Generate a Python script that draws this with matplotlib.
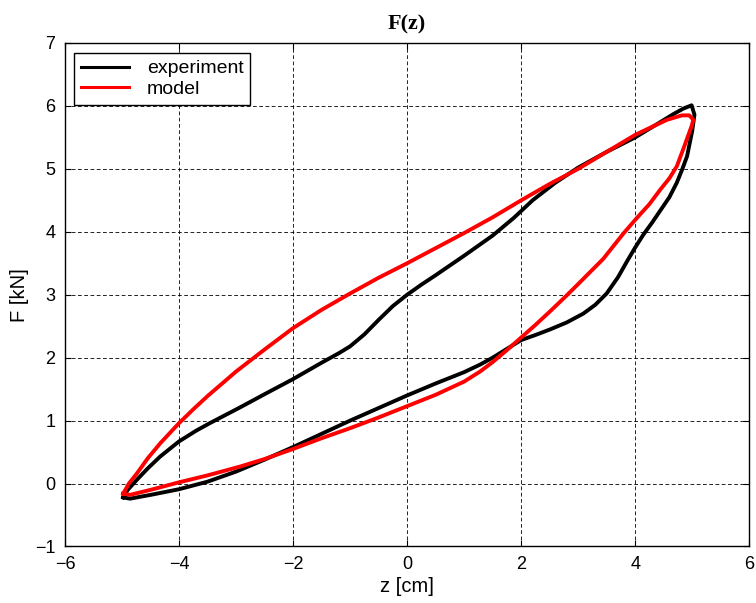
import numpy as np
import matplotlib.pyplot as plt

plt.rcParams["font.family"] = "Liberation Sans"
plt.rcParams["font.size"] = 13

# measured hysteresis loop: loading branch then unloading branch
z_exp_up = [-4.98, -4.90, -4.74, -4.55, -4.33, -4.0, -3.7, -3.46, -2.93, -2.5, -2.0,
            -1.5, -1.2, -1.0, -0.75, -0.5, -0.25, 0.0, 0.25, 0.5, 1.0, 1.5, 1.87, 2.2,
            2.6, 3.0, 3.5, 4.0, 4.4, 4.67, 4.85, 4.99]
F_exp_up = [-0.22, -0.10, 0.06, 0.24, 0.43, 0.67, 0.84, 0.96, 1.21, 1.42, 1.66,
            1.92, 2.07, 2.18, 2.37, 2.60, 2.82, 3.0, 3.16, 3.31, 3.62, 3.94, 4.22, 4.50,
            4.78, 5.02, 5.27, 5.50, 5.72, 5.87, 5.96, 6.01]
z_exp_dn = [5.04, 5.0, 4.91, 4.82, 4.73, 4.6, 4.45, 4.3, 4.14, 4.0, 3.85, 3.7, 3.5, 3.3,
            3.09, 2.8, 2.51, 2.25, 2.0, 1.75, 1.5, 1.28, 1.0, 0.5, 0.0, -0.5, -1.0,
            -1.5, -2.0, -2.5, -3.0, -3.5, -4.0, -4.5, -4.86, -4.98]
F_exp_dn = [5.86, 5.60, 5.20, 4.98, 4.78, 4.55, 4.35, 4.15, 3.95, 3.75, 3.52, 3.28,
            3.02, 2.84, 2.70, 2.56, 2.45, 2.36, 2.28, 2.14, 2.00, 1.89, 1.77, 1.59, 1.40,
            1.20, 1.00, 0.79, 0.58, 0.38, 0.19, 0.03, -0.09, -0.18, -0.24, -0.22]

# model response
z_mod_up = [-4.98, -4.88, -4.74, -4.55, -4.33, -4.0, -3.75, -3.5, -3.0, -2.5, -2.0, -1.5,
            -1.0, -0.5, 0.0, 0.5, 1.0, 1.5, 2.0, 2.5, 3.0, 3.5, 4.0, 4.3, 4.56, 4.82,
            4.95, 5.02]
F_mod_up = [-0.16, 0.0, 0.16, 0.40, 0.64, 0.96, 1.18, 1.39, 1.78, 2.13, 2.47, 2.76,
            3.02, 3.27, 3.50, 3.74, 3.98, 4.23, 4.50, 4.76, 5.0, 5.27, 5.54, 5.67, 5.78,
            5.85, 5.85, 5.78]
z_mod_dn = [5.02, 4.99, 4.85, 4.73, 4.6, 4.44, 4.25, 4.03, 3.80, 3.44, 3.0, 2.8, 2.5,
            2.25, 2.0, 1.75, 1.5, 1.28, 1.0, 0.5, 0.0, -0.5, -1.0, -1.5, -2.0, -2.5,
            -2.93, -3.5, -4.0, -4.5, -4.86, -4.98]
F_mod_dn = [5.78, 5.68, 5.33, 5.04, 4.85, 4.67, 4.44, 4.22, 3.98, 3.57, 3.17, 2.99, 2.73,
            2.52, 2.32, 2.12, 1.93, 1.78, 1.62, 1.41, 1.23, 1.05, 0.88, 0.72, 0.55, 0.39,
            0.27, 0.13, 0.02, -0.10, -0.18, -0.16]

z_exp = z_exp_up + z_exp_dn
F_exp = F_exp_up + F_exp_dn
z_mod = z_mod_up + z_mod_dn
F_mod = F_mod_up + F_mod_dn

fig = plt.figure(figsize=(7.56, 6.03), dpi=100)
ax = fig.add_axes([0.086, 0.0937, 0.905, 0.835])

ax.plot(z_exp, F_exp, color="black", lw=2.8, solid_joinstyle="round", label="experiment")
ax.plot(z_mod, F_mod, color="red", lw=2.8, solid_joinstyle="round", label="model")

ax.set_xlim(-6, 6)
ax.set_ylim(-1, 7)
ax.set_xticks(np.arange(-6, 7, 2))
ax.set_yticks(np.arange(-1, 8, 1))
ax.grid(True, color="black", linestyle=(0, (4.5, 3)), linewidth=0.6)
ax.tick_params(direction="in", top=True, right=True, length=4, width=0.8, pad=7)
for s in ax.spines.values():
    s.set_linewidth(1.0)

ax.set_xlabel("z [cm]", fontsize=14.5, labelpad=3)
ax.set_ylabel("F [kN]", fontsize=14.5, labelpad=4)
ax.set_title("F(z)", family="Liberation Serif", fontweight="bold", fontsize=16, pad=10)

leg = ax.legend(loc="upper left", bbox_to_anchor=(0.013, 0.980), fancybox=False,
                edgecolor="black", framealpha=1, borderaxespad=0, handlelength=2.5,
                handletextpad=0.9, borderpad=0.35, labelspacing=0.15, fontsize=14)
leg.get_frame().set_linewidth(1.0)
for h in leg.get_lines():
    h.set_linewidth(2.2)

fig.savefig("out.png", dpi=100)
